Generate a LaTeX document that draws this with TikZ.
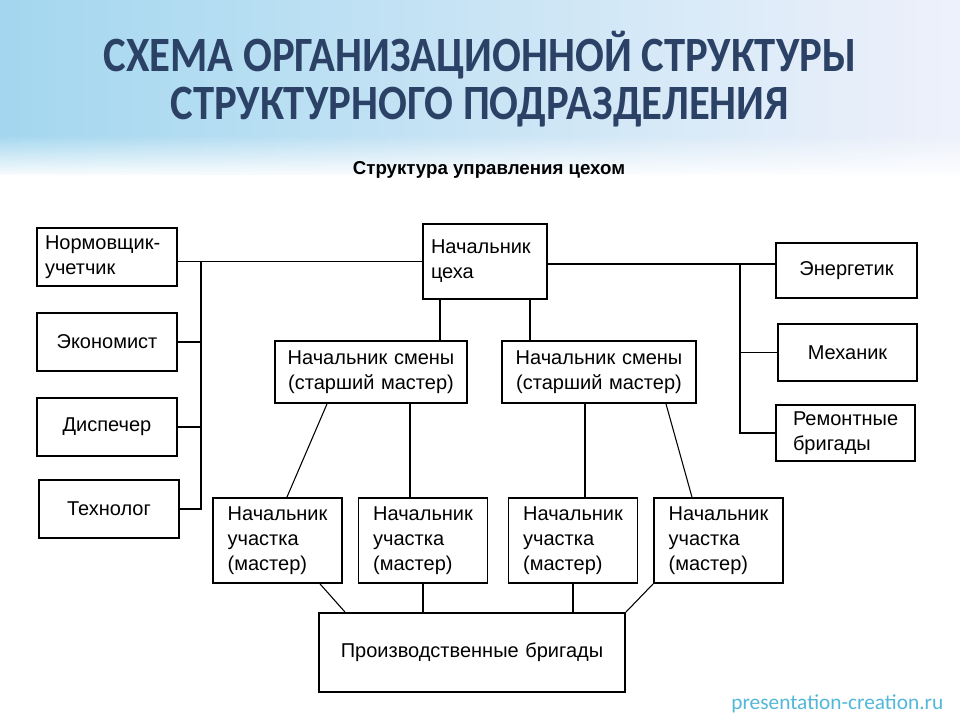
\documentclass[tikz,border=0pt]{standalone}
\usepackage{fontspec}
\setmainfont{Liberation Sans}
\newfontfamily\titlefont[FakeStretch=0.865]{Carlito}
\newfontfamily\saitfont{Carlito}
\usetikzlibrary{calc,fadings}
\definecolor{titleblue}{HTML}{2B4266}
\definecolor{wmblue}{HTML}{52B8D8}
\definecolor{bgleft}{HTML}{A3D7EF}
\definecolor{bgmid}{HTML}{F2E3F5}
\definecolor{bgright}{HTML}{EEF1FB}
\tikzset{
	blok/.style={draw, line width=1.4pt, fill=white, inner sep=0pt,
		font=\fontsize{15}{18.75}\selectfont},
	svyaz/.style={line width=1.4pt},
	tonk/.style={line width=0.8pt}
}
\begin{document}
\begin{tikzpicture}[x=0.75pt, y=-0.75pt]
	% fon
	\fill[white] (0,0) rectangle (960,720);
	\shade[left color=bgleft, middle color=bgmid, right color=bgright] (0,0) rectangle (960,175);
	\fill[white, path fading=north] (0,135) rectangle (960,178);
	\useasboundingbox (0,0) rectangle (960,720);
	% zagolovok
	\node[anchor=base, text=titleblue, font=\titlefont\bfseries\fontsize{37}{44}\selectfont] (zag1) at (480,72) {СХЕМА ОРГАНИЗАЦИОННОЙ СТРУКТУРЫ};
	\node[anchor=base, text=titleblue, font=\titlefont\bfseries\fontsize{37}{44}\selectfont] (zag2) at (480,120) {СТРУКТУРНОГО ПОДРАЗДЕЛЕНИЯ};
	\node[anchor=base, font=\bfseries\fontsize{14}{16}\selectfont] (podzag) at (489,175) {Структура управления цехом};
	% levaya kolonka
	\node[blok, minimum width=105pt, minimum height=43.5pt, text width=93pt, align=left] (normir) at (107,257) {Нормовщик-\\учетчик};
	\node[blok, minimum width=105pt, minimum height=43.5pt, text width=93pt, align=center] (ekon) at (107,342) {Экономист};
	\node[blok, minimum width=105pt, minimum height=43.5pt, text width=93pt, align=center] (disp) at (107,427) {Диспечер};
	\node[blok, minimum width=105pt, minimum height=43.5pt, text width=93pt, align=center] (tehn) at (109,509) {Технолог};
	% nachalnik tseha
	\node[blok, minimum width=93pt, minimum height=56.25pt, text width=81pt, align=left] (nach) at (485,261.5) {Начальник\\цеха};
	% pravaya kolonka
	\node[blok, minimum width=105.75pt, minimum height=41.25pt, text width=93pt, align=center] (energ) at (846.5,270.5) {Энергетик};
	\node[blok, minimum width=104.25pt, minimum height=42.75pt, text width=93pt, align=center] (meh) at (847.5,352.5) {Механик};
	\node[blok, minimum width=104.25pt, minimum height=42pt, text width=78.75pt, align=left] (remont) at (845.5,433) {Ремонтные\\бригады};
	% nachalniki smeny
	\node[blok, minimum width=144pt, minimum height=46.5pt, text width=135pt, align=center] (smena1) at (371,372) {Начальник смены\\(старший мастер)};
	\node[blok, minimum width=145.5pt, minimum height=46.5pt, text width=135pt, align=center] (smena2) at (599,372) {Начальник смены\\(старший мастер)};
	% nachalniki uchastkov
	\node[blok, minimum width=96.75pt, minimum height=63.75pt, text width=74.75pt, align=left] (uch1) at (277.5,540.5) {Начальник\\участка\\(мастер)};
	\node[blok, minimum width=96.75pt, minimum height=63.75pt, text width=74.75pt, align=left] (uch2) at (423,540.5) {Начальник\\участка\\(мастер)};
	\node[blok, minimum width=96.75pt, minimum height=63.75pt, text width=74.75pt, align=left] (uch3) at (573,540.5) {Начальник\\участка\\(мастер)};
	\node[blok, minimum width=96.75pt, minimum height=63.75pt, text width=74.75pt, align=left] (uch4) at (718.5,540.5) {Начальник\\участка\\(мастер)};
	% brigady
	\node[blok, minimum width=229.5pt, minimum height=59.25pt, text width=215pt, align=center] (brig) at (472,652.5) {Производственные бригады};
	% svyazi sleva
	\draw[svyaz] (nach.west) -- (nach.west -| normir.east);
	\coordinate (shinaL) at ($(normir.east |- nach.west)+(17.25pt,0)$);
	\draw[svyaz] (shinaL) |- (tehn.east);
	\draw[svyaz] (ekon.east) -- (ekon.east -| shinaL);
	\draw[svyaz] (disp.east) -- (disp.east -| shinaL);
	% svyazi sprava
	\coordinate (shinaR) at ($(energ.west)+(-26.25pt,4.875pt)$);
	\draw[svyaz] (nach.east |- shinaR) -- (energ.west |- shinaR);
	\draw[svyaz] (shinaR) |- (remont.west);
	\draw[svyaz] (meh.west) -- (meh.west -| shinaR);
	% ot nachalnika tseha k smenam
	\draw[svyaz] ([xshift=-33.75pt]nach.south) coordinate (k1) -- (k1 |- smena1.north);
	\draw[svyaz] ([xshift=33.75pt]nach.south) coordinate (k2) -- (k2 |- smena2.north);
	% ot smen k uchastkam
	\draw[tonk] ([xshift=-33pt]smena1.south) -- ([xshift=7.1pt]uch1.north);
	\draw[tonk] ([xshift=29.25pt]smena1.south) coordinate (k3) -- (k3 |- uch2.north);
	\draw[tonk] ([xshift=-10.5pt]smena2.south) coordinate (k4) -- (k4 |- uch3.north);
	\draw[tonk] ([xshift=50.25pt]smena2.south) -- ([xshift=-19.9pt]uch4.north);
	% ot uchastkov k brigadam
	\draw[tonk] ([xshift=31.9pt]uch1.south) -- ([xshift=-95.25pt]brig.north);
	\draw[svyaz] (uch2.south) -- (uch2.south |- brig.north);
	\draw[svyaz] (uch3.south) -- (uch3.south |- brig.north);
	\draw[tonk] (uch4.south west) -- (brig.north east);
	% podpis
	\node[anchor=base east, text=wmblue, font=\saitfont\fontsize{16}{20}\selectfont] (sait) at (948,709) {presentation-creation.ru};
\end{tikzpicture}
\end{document}
